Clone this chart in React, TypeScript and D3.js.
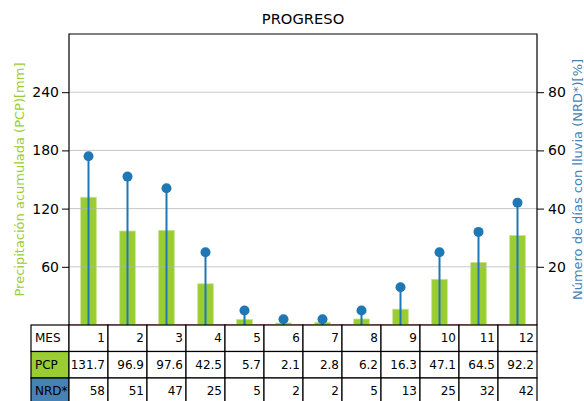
import React, { useEffect, useRef } from 'react';
import * as d3 from 'd3';

const months = [1, 2, 3, 4, 5, 6, 7, 8, 9, 10, 11, 12];
const pcp = [131.7, 96.9, 97.6, 42.5, 5.7, 2.1, 2.8, 6.2, 16.3, 47.1, 64.5, 92.2];
const nrd = [58, 51, 47, 25, 5, 2, 2, 5, 13, 25, 32, 42];
const leftTicks = [60, 120, 180, 240];
const rightTicks = [20, 40, 60, 80];
const rowLabels = ['MES', 'PCP', 'NRD*'];

const GREEN = '#9acd32';
const BLUE = '#1f77b4';
const STEEL = '#4682b4';
const FONT = 'DejaVu Sans, sans-serif';

const App: React.FC = () => {
  const svgRef = useRef<SVGSVGElement>(null);

  useEffect(() => {
    if (!svgRef.current) return;
    const width = 584;
    const height = 401;
    const margin = { top: 34, left: 69, right: 47, bottom: 76 };
    const innerW = width - margin.left - margin.right;
    const innerH = height - margin.top - margin.bottom;

    const svg = d3.select(svgRef.current);
    svg.selectAll('*').remove();
    svg.attr('width', width).attr('height', height);

    const g = svg.append('g').attr('transform', `translate(${margin.left},${margin.top})`);

    const x = d3.scaleBand<number>().domain(months).range([0, innerW]).padding(0);
    const yL = d3.scaleLinear().domain([0, 300]).range([innerH, 0]);
    const yR = d3.scaleLinear().domain([0, 100]).range([innerH, 0]);
    const barW = x.bandwidth() * 0.4;

    // red baseline
    g.append('line')
      .attr('x1', 0).attr('x2', innerW)
      .attr('y1', yL(0)).attr('y2', yL(0))
      .attr('stroke', '#d0463c').attr('stroke-width', 1.2);

    // bars
    g.append('g')
      .selectAll('rect')
      .data(months)
      .join('rect')
      .attr('x', (d) => x(d)! + x.bandwidth() / 2 - barW / 2)
      .attr('width', barW)
      .attr('y', (d, i) => yL(pcp[i]))
      .attr('height', (d, i) => yL(0) - yL(pcp[i]))
      .attr('fill', GREEN)
      .attr('stroke', '#c6e48b')
      .attr('stroke-width', 0.8);

    // grid
    g.append('g')
      .selectAll('line')
      .data(leftTicks)
      .join('line')
      .attr('x1', 0).attr('x2', innerW)
      .attr('y1', (d) => yL(d)).attr('y2', (d) => yL(d))
      .attr('stroke', '#b0b0b0').attr('stroke-opacity', 0.7).attr('stroke-width', 1);

    // stems
    const cx = (d: number) => x(d)! + x.bandwidth() / 2;
    g.append('g')
      .selectAll('line')
      .data(months)
      .join('line')
      .attr('x1', cx).attr('x2', cx)
      .attr('y1', yR(0))
      .attr('y2', (d, i) => yR(nrd[i]))
      .attr('stroke', BLUE).attr('stroke-width', 2);
    g.append('g')
      .selectAll('circle')
      .data(months)
      .join('circle')
      .attr('cx', cx)
      .attr('cy', (d, i) => yR(nrd[i]))
      .attr('r', 5)
      .attr('fill', BLUE);

    // axes
    const left = g.append('g').call(d3.axisLeft(yL).tickValues(leftTicks).tickSize(7).tickPadding(3));
    const right = g.append('g')
      .attr('transform', `translate(${innerW},0)`)
      .call(d3.axisRight(yR).tickValues(rightTicks).tickSize(7).tickPadding(4));
    [left, right].forEach((a) => {
      a.select('.domain').remove();
      a.selectAll('text').attr('font-size', 14).attr('font-family', FONT).attr('fill', '#000');
      a.selectAll('line').attr('stroke', '#000');
    });

    // spines
    g.append('path')
      .attr('d', `M0,${innerH}V0H${innerW}V${innerH}`)
      .attr('fill', 'none')
      .attr('stroke', '#000')
      .attr('stroke-width', 1.2);

    // title
    svg.append('text')
      .attr('x', margin.left + innerW / 2)
      .attr('y', 24)
      .attr('text-anchor', 'middle')
      .attr('font-family', FONT)
      .attr('font-size', 14.7)
      .text('PROGRESO');

    // axis labels
    svg.append('text')
      .attr('transform', `translate(24,${margin.top + innerH / 2}) rotate(-90)`)
      .attr('text-anchor', 'middle')
      .attr('font-family', FONT)
      .attr('font-size', 13)
      .attr('fill', GREEN)
      .text('Precipitación acumulada (PCP)[mm]');
    svg.append('text')
      .attr('transform', `translate(582,${margin.top + innerH / 2}) rotate(-90)`)
      .attr('text-anchor', 'middle')
      .attr('font-family', FONT)
      .attr('font-size', 13)
      .attr('fill', STEEL)
      .text('Número de días con lluvia (NRD*)[%]');

    // table
    const rowH = 26.5;
    const labelX = 31;
    const top = margin.top + innerH;
    const rows = [months.map(String), pcp.map((v) => v.toFixed(1)), nrd.map(String)];
    const fills = ['#fff', GREEN, STEEL];
    const t = svg.append('g');
    rowLabels.forEach((lab, r) => {
      const yTop = top + r * rowH;
      t.append('rect')
        .attr('x', labelX).attr('y', yTop)
        .attr('width', margin.left - labelX).attr('height', rowH)
        .attr('fill', fills[r]).attr('stroke', '#000').attr('stroke-width', 1.2);
      t.append('text')
        .attr('x', labelX + 4).attr('y', yTop + rowH / 2)
        .attr('dy', '0.35em')
        .attr('font-family', FONT).attr('font-size', 12)
        .text(lab);
      months.forEach((m, i) => {
        t.append('rect')
          .attr('x', margin.left + x(m)!).attr('y', yTop)
          .attr('width', x.bandwidth()).attr('height', rowH)
          .attr('fill', '#fff').attr('stroke', '#000').attr('stroke-width', 1.2);
        t.append('text')
          .attr('x', margin.left + x(m)! + x.bandwidth() - 3).attr('y', yTop + rowH / 2)
          .attr('dy', '0.35em')
          .attr('text-anchor', 'end')
          .attr('font-family', FONT).attr('font-size', 12)
          .text(rows[r][i]);
      });
    });
  }, []);

  return (
    <svg
      ref={svgRef}
      style={{ position: 'absolute', left: 0, top: 0, background: '#fff' }}
    />
  );
};

export default App;
